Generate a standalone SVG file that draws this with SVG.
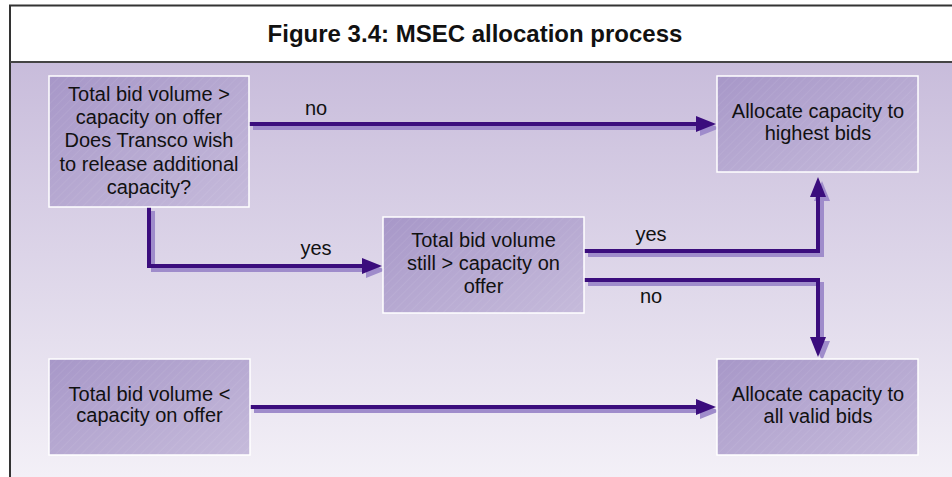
<svg xmlns="http://www.w3.org/2000/svg" width="952" height="477" viewBox="0 0 952 477">
  <defs>
    <linearGradient id="bg" x1="0" y1="0" x2="0" y2="1">
      <stop offset="0" stop-color="#c8bcdb"/>
      <stop offset="1" stop-color="#f3f0f7"/>
    </linearGradient>
    <linearGradient id="boxg" x1="0" y1="0" x2="1" y2="1">
      <stop offset="0" stop-color="#a797c8"/>
      <stop offset="1" stop-color="#c6bbdb"/>
    </linearGradient>
    <pattern id="hatch" width="6" height="6" patternUnits="userSpaceOnUse" patternTransform="rotate(45)">
      <line x1="0" y1="0" x2="0" y2="6" stroke="#ffffff" stroke-opacity="0.12" stroke-width="1"/>
    </pattern>
    <marker id="ah" markerUnits="userSpaceOnUse" markerWidth="20" markerHeight="16" refX="10" refY="8" orient="auto" viewBox="0 0 20 16">
      <path d="M0,0 L20,8 L0,16 z" fill="#3b0d7d"/>
    </marker>
    <marker id="ahs" markerUnits="userSpaceOnUse" markerWidth="20" markerHeight="16" refX="10" refY="8" orient="auto" viewBox="0 0 20 16">
      <path d="M0,0 L20,8 L0,16 z" fill="#9f8ccb"/>
    </marker>
  </defs>
  <style>
    .frame { fill: none; stroke: #333333; stroke-width: 2; }
    .box { fill: url(#boxg); stroke: #ffffff; stroke-width: 1.5; }
    .hatch { fill: url(#hatch); }
    .t { font-family: "Liberation Sans", Arial, sans-serif; font-size: 20px; fill: #111111; text-anchor: middle; }
    .title { font-family: "Liberation Sans", Arial, sans-serif; font-size: 24px; font-weight: bold; fill: #111111; text-anchor: middle; }
    .c { fill: none; stroke: #3b0d7d; stroke-width: 4; marker-end: url(#ah); }
    .cs { fill: none; stroke: #9f8ccb; stroke-width: 4; marker-end: url(#ahs); }
  </style>

  <rect x="0" y="0" width="952" height="477" fill="#ffffff"/>
  <rect x="10" y="62" width="942" height="415" fill="url(#bg)"/>
  <path class="frame" d="M10,477 V5.5 H952"/>
  <line x1="10" y1="62" x2="952" y2="62" stroke="#444444" stroke-width="2"/>
  <text class="title" x="475" y="42">Figure 3.4: MSEC allocation process</text>

  <g id="connectors">
    <g transform="translate(4,4)">
      <path class="cs" d="M249,124 H706"/>
      <path class="cs" d="M149,207 V266 H372"/>
      <path class="cs" d="M584,251 H818 V187"/>
      <path class="cs" d="M584,280 H818 V347"/>
      <path class="cs" d="M250,407 H706"/>
    </g>
    <path class="c" d="M249,124 H706"/>
    <path class="c" d="M149,207 V266 H372"/>
    <path class="c" d="M584,251 H818 V187"/>
    <path class="c" d="M584,280 H818 V347"/>
    <path class="c" d="M250,407 H706"/>
    <text class="t" x="316" y="115">no</text>
    <text class="t" x="316" y="255">yes</text>
    <text class="t" x="651" y="241">yes</text>
    <text class="t" x="651" y="303">no</text>
  </g>

  <g id="node-bid-gt">
    <rect class="box" x="49" y="76" width="200" height="131"/>
    <rect class="hatch" x="49" y="76" width="200" height="131"/>
    <text class="t" x="149" y="101">Total bid volume &gt;</text>
    <text class="t" x="149" y="124">capacity on offer</text>
    <text class="t" x="149" y="147">Does Transco wish</text>
    <text class="t" x="149" y="171">to release additional</text>
    <text class="t" x="149" y="194">capacity?</text>
  </g>

  <g id="node-highest">
    <rect class="box" x="717" y="76" width="201" height="96"/>
    <rect class="hatch" x="717" y="76" width="201" height="96"/>
    <text class="t" x="818" y="118">Allocate capacity to</text>
    <text class="t" x="818" y="140">highest bids</text>
  </g>

  <g id="node-still-gt">
    <rect class="box" x="383" y="217" width="201" height="96"/>
    <rect class="hatch" x="383" y="217" width="201" height="96"/>
    <text class="t" x="483.5" y="247">Total bid volume</text>
    <text class="t" x="483.5" y="270">still &gt; capacity on</text>
    <text class="t" x="483.5" y="293">offer</text>
  </g>

  <g id="node-bid-lt">
    <rect class="box" x="49" y="359" width="201" height="96"/>
    <rect class="hatch" x="49" y="359" width="201" height="96"/>
    <text class="t" x="149.5" y="401">Total bid volume &lt;</text>
    <text class="t" x="149.5" y="422">capacity on offer</text>
  </g>

  <g id="node-all-valid">
    <rect class="box" x="717" y="359" width="201" height="96"/>
    <rect class="hatch" x="717" y="359" width="201" height="96"/>
    <text class="t" x="818" y="401">Allocate capacity to</text>
    <text class="t" x="818" y="423">all valid bids</text>
  </g>
</svg>
